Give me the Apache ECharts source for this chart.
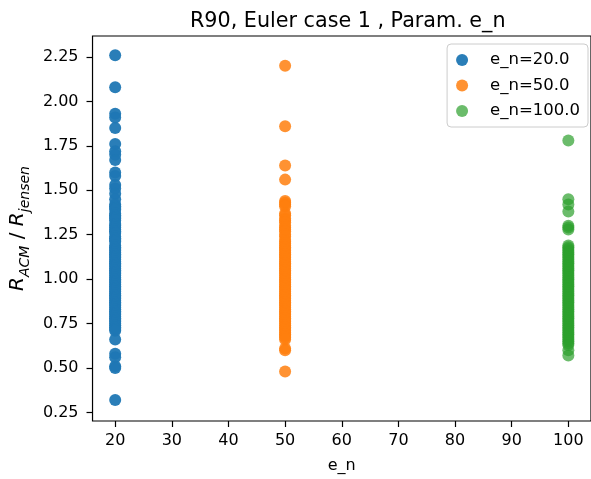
<!DOCTYPE html>
<html>
<head>
<meta charset="utf-8">
<script src="https://cdn.jsdelivr.net/npm/echarts@6/dist/echarts.min.js"></script>
<style>html,body{margin:0;padding:0;background:#fff}#c{width:591px;height:479px}</style>
</head>
<body>
<div id="c"></div>
<script>
const title = 'R90, Euler case 1 , Param. e_n';
const seriesNames = ['e_n=20.0', 'e_n=50.0', 'e_n=100.0'];
const xPositions = [20, 50, 100];
const xTicks = [20, 30, 40, 50, 60, 70, 80, 90, 100];
const yTicks = [0.25, 0.5, 0.75, 1.0, 1.25, 1.5, 1.75, 2.0, 2.25];

const valuesEn20 = [2.26, 2.08, 1.93, 1.91, 1.85, 1.76, 1.72, 1.70, 1.67, 1.60, 1.58, 1.53, 1.51, 1.48, 1.45, 1.42,
  1.41, 1.40, 1.39, 1.37, 1.36, 1.35, 1.34, 1.33, 1.31, 1.30, 1.29, 1.28, 1.27, 1.26, 1.24, 1.23, 1.22, 1.21,
  1.19, 1.18, 1.17, 1.16, 1.15, 1.14, 1.13, 1.12, 1.11, 1.10, 1.09, 1.08, 1.07, 1.06, 1.05, 1.04, 1.03, 1.02,
  1.01, 1.00, 0.99, 0.98, 0.97, 0.96, 0.95, 0.94, 0.93, 0.92, 0.91, 0.90, 0.89, 0.88, 0.87, 0.86, 0.85, 0.84,
  0.83, 0.82, 0.81, 0.80, 0.79, 0.78, 0.77, 0.76, 0.75, 0.74, 0.73, 0.72, 0.71, 0.66, 0.58, 0.56, 0.51, 0.50, 0.32];
const valuesEn50 = [2.20, 1.86, 1.64, 1.56, 1.44, 1.43, 1.42, 1.41, 1.37, 1.36, 1.34, 1.33, 1.32, 1.30, 1.29,
  1.28, 1.27, 1.25, 1.24, 1.22, 1.21, 1.20, 1.19, 1.18, 1.17, 1.16, 1.15, 1.14, 1.13, 1.12, 1.11, 1.10, 1.09,
  1.08, 1.07, 1.06, 1.05, 1.04, 1.03, 1.02, 1.01, 1.00, 0.99, 0.98, 0.97, 0.96, 0.95, 0.94, 0.93, 0.92, 0.91,
  0.90, 0.89, 0.88, 0.87, 0.86, 0.85, 0.84, 0.83, 0.82, 0.81, 0.80, 0.79, 0.78, 0.77, 0.76, 0.75, 0.74, 0.73,
  0.72, 0.71, 0.70, 0.69, 0.68, 0.67, 0.66, 0.61, 0.60, 0.48];
const valuesEn100 = [1.78, 1.45, 1.42, 1.38, 1.30, 1.29, 1.28, 1.19, 1.18, 1.17, 1.16, 1.15, 1.14, 1.13, 1.12,
  1.11, 1.10, 1.09, 1.08, 1.07, 1.06, 1.05, 1.04, 1.03, 1.02, 1.01, 1.00, 0.99, 0.98, 0.97, 0.96, 0.95, 0.94,
  0.93, 0.92, 0.91, 0.90, 0.89, 0.88, 0.87, 0.86, 0.85, 0.84, 0.83, 0.82, 0.81, 0.80, 0.79, 0.78, 0.77, 0.76,
  0.75, 0.74, 0.73, 0.72, 0.71, 0.70, 0.69, 0.68, 0.67, 0.66, 0.65, 0.64, 0.63, 0.60, 0.57];

const allValues = [valuesEn20, valuesEn50, valuesEn100];
const colors = ['#1f77b4', '#ff7f0e', '#2ca02c'];
const opacities = [0.95, 0.85, 0.7];
const FONT = 'DejaVu Sans';

const chart = echarts.init(document.getElementById('c'), null, {renderer: 'canvas'});
chart.setOption({
  animation: false,
  backgroundColor: '#fff',
  title: {
    text: title, left: 185, top: 6,
    textStyle: {fontFamily: FONT, fontSize: 20.7, fontWeight: 'normal', color: '#000'}
  },
  legend: {
    data: seriesNames, right: 3, top: 44, orient: 'vertical',
    icon: 'circle', itemWidth: 30, itemHeight: 12, itemGap: 7.5,
    padding: [7, 8, 7, 9],
    backgroundColor: 'rgba(255,255,255,0.8)', borderColor: '#cccccc', borderWidth: 1, borderRadius: 4,
    textStyle: {fontFamily: FONT, fontSize: 16.5, color: '#000', lineHeight: 18, padding: [0, 0, 0, 8]}
  },
  grid: {left: 91, right: -4, top: 36, bottom: 52.7, show: true, borderColor: '#000', borderWidth: 1.2, backgroundColor: 'transparent'},
  xAxis: {
    type: 'value', min: 16, max: 104,
    name: 'e_n', nameLocation: 'middle', nameGap: 37,
    nameTextStyle: {fontFamily: FONT, fontSize: 16, color: '#000'},
    axisLine: {show: false}, splitLine: {show: false},
    axisTick: {show: true, length: 6, inside: false, customValues: xTicks, lineStyle: {color: '#000', width: 1.2}},
    axisLabel: {customValues: xTicks, margin: 12, fontFamily: FONT, fontSize: 16, color: '#000'}
  },
  yAxis: {
    type: 'value', min: 0.202, max: 2.368,
    name: '{i|R}{s|ACM}{n| / }{i|R}{s|jensen}', nameLocation: 'middle', nameGap: 57, nameRotate: 90,
    nameTextStyle: {
      fontFamily: FONT, fontSize: 20, color: '#000',
      rich: {
        i: {fontFamily: FONT, fontSize: 20, fontStyle: 'italic', color: '#000', verticalAlign: 'bottom', padding: [0, 0, 4, 0]},
        n: {fontFamily: FONT, fontSize: 20, color: '#000', verticalAlign: 'bottom', padding: [0, 0, 4, 0]},
        s: {fontFamily: FONT, fontSize: 14, fontStyle: 'italic', color: '#000', verticalAlign: 'bottom'}
      }
    },
    axisLine: {show: false}, splitLine: {show: false},
    axisTick: {show: true, length: 6, inside: false, customValues: yTicks, lineStyle: {color: '#000', width: 1.2}},
    axisLabel: {customValues: yTicks, margin: 14, fontFamily: FONT, fontSize: 16, color: '#000',
      formatter: v => v.toFixed(2)}
  },
  series: seriesNames.map((name, k) => ({
    name: name, type: 'scatter', symbol: 'circle', symbolSize: 12,
    itemStyle: {color: colors[k], opacity: opacities[k]},
    data: allValues[k].map(v => [xPositions[k], v])
  }))
});
</script>
</body>
</html>
